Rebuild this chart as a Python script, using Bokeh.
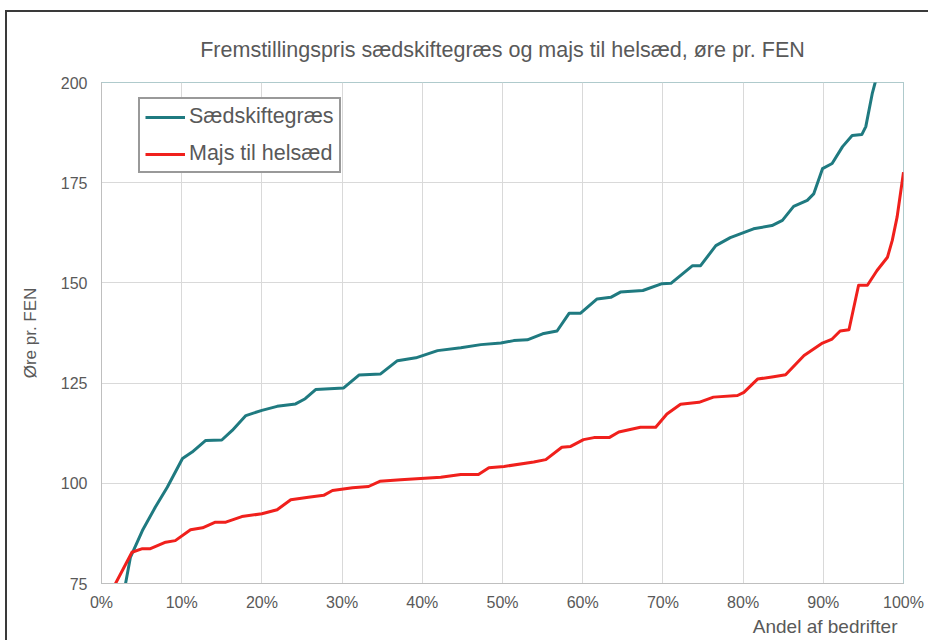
from bokeh.plotting import figure
from bokeh.models import Legend, LegendItem, Title, PrintfTickFormatter, FixedTicker, Range1d
from bokeh.embed import file_html
from bokeh.resources import INLINE

# ---- data ----
title_text = "Fremstillingspris sædskiftegræs og majs til helsæd, øre pr. FEN"
x_label = "Andel af bedrifter"
y_label = "Øre pr. FEN"
series_names = ["Sædskiftegræs", "Majs til helsæd"]

x_ticks = [0, 10, 20, 30, 40, 50, 60, 70, 80, 90, 100]
y_ticks = [75, 100, 125, 150, 175, 200]

graes_x = [2.6, 3.0, 3.6, 5.1, 6.7, 8.2, 10.1, 11.3, 13.0, 15.0, 16.3, 18.0, 20.0, 21.9,
           24.2, 25.4, 26.7, 30.2, 32.1, 34.8, 36.9, 39.2, 41.9, 44.8, 47.3, 49.8, 51.4,
           53.1, 55.0, 56.8, 58.3, 59.7, 61.8, 63.5, 64.7, 67.5, 69.9, 71.0, 73.7, 74.7,
           76.6, 78.4, 81.3, 83.6, 84.9, 86.3, 88.0, 88.8, 89.9, 91.1, 92.4, 93.6, 94.8,
           95.3, 96.1, 96.6, 97.0]
graes_y = [70.5, 75.0, 81.5, 88.2, 94.0, 99.0, 106.2, 107.8, 110.7, 110.8, 113.2, 116.9,
           118.2, 119.2, 119.8, 121.1, 123.4, 123.8, 127.0, 127.3, 130.6, 131.3, 133.1,
           133.8, 134.6, 135.0, 135.6, 135.8, 137.3, 138.0, 142.4, 142.4, 146.0, 146.4,
           147.7, 148.1, 149.8, 149.9, 154.3, 154.3, 159.3, 161.3, 163.5, 164.3, 165.6,
           169.1, 170.6, 172.2, 178.5, 179.8, 184.0, 186.8, 187.0, 189.0, 197.2, 201.0, 210.0]

majs_x = [1.2, 1.75, 2.8, 3.8, 5.1, 6.1, 8.0, 9.2, 11.1, 12.6, 14.2, 15.5, 17.5, 20.0,
          21.9, 23.6, 25.8, 27.7, 28.8, 31.3, 33.3, 34.7, 37.3, 42.3, 44.8, 47.0, 48.3,
          50.2, 53.9, 55.4, 57.4, 58.5, 60.1, 61.4, 63.3, 64.5, 67.2, 69.1, 70.5, 72.2,
          74.5, 76.3, 79.3, 80.1, 81.8, 83.8, 85.3, 87.6, 89.9, 91.1, 92.1, 93.2, 94.4,
          95.5, 96.7, 98.0, 98.6, 99.2, 100.0]
majs_y = [72.5, 75.0, 79.0, 82.8, 83.7, 83.7, 85.3, 85.7, 88.4, 88.9, 90.3, 90.3, 91.7,
          92.4, 93.4, 95.9, 96.5, 97.0, 98.2, 98.9, 99.2, 100.5, 100.9, 101.5, 102.2,
          102.2, 103.9, 104.2, 105.3, 105.9, 109.0, 109.2, 110.9, 111.4, 111.4, 112.8,
          114.0, 114.0, 117.3, 119.7, 120.2, 121.5, 121.9, 122.7, 126.0, 126.6, 127.1,
          131.9, 135.0, 136.0, 138.0, 138.3, 149.4, 149.4, 153.1, 156.4, 160.6, 166.4, 177.6]

# ---- style ----
FONT = "Liberation Sans"
TXT = "#595959"
TEAL = "#1f7a80"
RED = "#f0201c"

p = figure(width=923, height=630, output_backend="svg", toolbar_location=None,
           x_range=Range1d(0, 100), y_range=Range1d(75, 200),
           min_border_left=94, min_border_right=27, min_border_top=70, min_border_bottom=59)
p.styles = {"margin-left": "5px", "margin-top": "10px",
            "border-left": "2px solid #3a3a3a", "border-top": "2px solid #3a3a3a"}

p.background_fill_color = "white"
p.border_fill_color = "white"
p.outline_line_color = "#5f9499"
p.outline_line_dash = "1 1"
p.outline_line_width = 1

p.xgrid.grid_line_color = "#d9d9d9"
p.ygrid.grid_line_color = "#d9d9d9"
p.xgrid.ticker = FixedTicker(ticks=x_ticks)
p.ygrid.ticker = FixedTicker(ticks=y_ticks)

p.xaxis.ticker = FixedTicker(ticks=x_ticks)
p.yaxis.ticker = FixedTicker(ticks=y_ticks)
p.xaxis.formatter = PrintfTickFormatter(format="%d%%")
for ax in (p.xaxis, p.yaxis):
    ax.axis_line_color = "#bfbfbf"
    ax.major_tick_line_color = None
    ax.minor_tick_line_color = None
    ax.major_tick_out = 0
    ax.major_tick_in = 0
    ax.minor_tick_out = 0
    ax.minor_tick_in = 0
    ax.major_label_text_font = FONT
    ax.major_label_text_font_size = "16px"
    ax.major_label_text_color = TXT
p.yaxis.major_label_standoff = 14
p.xaxis.major_label_standoff = 10
p.yaxis.axis_label = y_label
p.yaxis.axis_label_text_font = FONT
p.yaxis.axis_label_text_font_size = "17px"
p.yaxis.axis_label_text_font_style = "normal"
p.yaxis.axis_label_text_color = TXT
p.yaxis.axis_label_standoff = 18

r1 = p.line(graes_x, graes_y, line_color=TEAL, line_width=3, line_join="round")
r2 = p.line(majs_x, majs_y, line_color=RED, line_width=3, line_join="round")

p.title.text = title_text
p.title.align = "center"
p.title.text_font = FONT
p.title.text_font_size = "21.5px"
p.title.text_font_style = "normal"
p.title.text_color = TXT
p.title.standoff = 41

p.add_layout(Title(text=x_label, align="right", text_font=FONT, text_font_size="19px",
                   text_font_style="normal", text_color=TXT, offset=6, standoff=0), "below")

legend = Legend(items=[LegendItem(label=series_names[0], renderers=[r1]),
                       LegendItem(label=series_names[1], renderers=[r2])],
                location=(37, 410), margin=0, padding=5, spacing=12,
                glyph_width=40, glyph_height=22, label_height=22, label_standoff=4,
                label_text_font=FONT, label_text_font_size="21.5px", label_text_color=TXT,
                border_line_color="#333333", border_line_width=2,
                background_fill_color="white", background_fill_alpha=1.0)
p.add_layout(legend, "center")

open("out.html", "w").write(file_html(p, INLINE))
